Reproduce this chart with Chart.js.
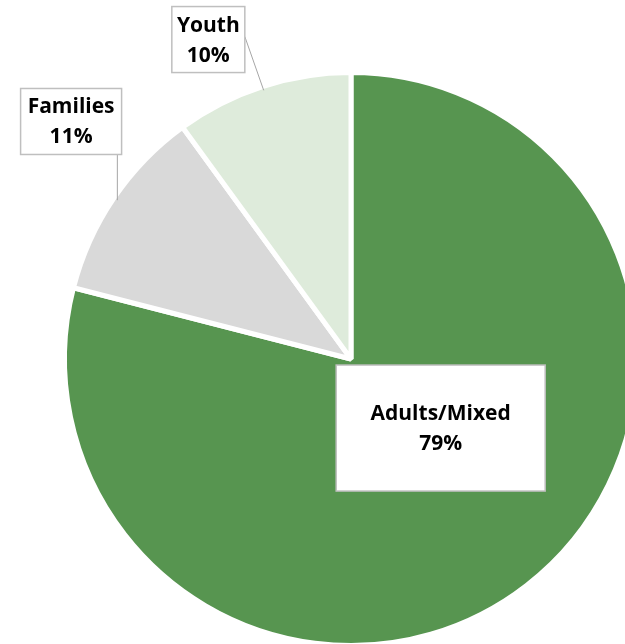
<!DOCTYPE html>
<html>
<head>
<meta charset="utf-8">
<script src="https://cdn.jsdelivr.net/npm/chart.js@4.4.1/dist/chart.umd.min.js"></script>
<style>
    html, body { margin: 0; padding: 0; overflow: hidden; background: #ffffff; }
    #wrap { position: absolute; left: 0; top: 0; width: 700px; height: 720px; }
</style>
</head>
<body>
<div id="wrap"><canvas id="chart"></canvas></div>
<script>
// --- Data ---
const categories = ['Adults/Mixed', 'Families', 'Youth'];
const shares = [79, 11, 10];

// --- Styling ---
const sliceColors = ['#579550', '#d9d9d9', '#deebdb'];
// label box centre, in units of the pie radius, relative to the pie centre
const labelOffsets = [[0.313, 0.241], [-0.977, -0.829], [-0.498, -1.115]];
const labelBoxes = [[209, 126], [101, 66], [73, 66]];
// where the leader line leaves the box (null = label sits inside the slice)
const leaderSide = [null, 'bottom', 'right'];

const labelFont = 'bold 21px "Open Sans", Lato, sans-serif';

// Draws the Excel style callout boxes with leader lines
const calloutPlugin = {
    id: 'callouts',
    afterDatasetsDraw(chart) {
        const ctx = chart.ctx;
        const meta = chart.getDatasetMeta(0);
        const total = shares.reduce((a, b) => a + b, 0);

        meta.data.forEach((arc, i) => {
            const { x, y, startAngle, endAngle, outerRadius } = arc.getProps(['x', 'y', 'startAngle', 'endAngle', 'outerRadius'], true);
            const r = outerRadius;
            const cx = x + labelOffsets[i][0] * r;
            const cy = y + labelOffsets[i][1] * r;
            const [w, h] = labelBoxes[i];
            const left = cx - w / 2, top = cy - h / 2;

            ctx.save();

            // leader line to the slice edge
            if (leaderSide[i]) {
                const mid = (startAngle + endAngle) / 2;
                const ax = x + Math.cos(mid) * (r - 4);
                const ay = y + Math.sin(mid) * (r - 4);
                let sx, sy;
                if (leaderSide[i] === 'bottom') {
                    sx = ax; sy = top + h;
                } else {
                    sx = left + w; sy = cy - 3;
                }
                ctx.strokeStyle = '#a6a6a6';
                ctx.lineWidth = 1;
                ctx.beginPath();
                ctx.moveTo(sx, sy);
                ctx.lineTo(ax, ay);
                ctx.stroke();
            }

            // box
            ctx.fillStyle = '#ffffff';
            ctx.fillRect(left, top, w, h);
            ctx.strokeStyle = '#bfbfbf';
            ctx.lineWidth = 1.5;
            ctx.strokeRect(left, top, w, h);

            // text
            const pct = Math.round(shares[i] / total * 100) + '%';
            ctx.fillStyle = '#000000';
            ctx.font = labelFont;
            ctx.textAlign = 'center';
            ctx.textBaseline = 'middle';
            ctx.fillText(categories[i], cx, cy - 14);
            ctx.fillText(pct, cx, cy + 16);

            ctx.restore();
        });
    }
};

new Chart(document.getElementById('chart'), {
    type: 'pie',
    data: {
        labels: categories,
        datasets: [{
            data: shares,
            backgroundColor: sliceColors,
            borderColor: '#ffffff',
            borderWidth: 5
        }]
    },
    options: {
        responsive: true,
        maintainAspectRatio: false,
        animation: false,
        layout: {
            padding: { left: 62, top: 70, right: 60, bottom: 72 }
        },
        plugins: {
            legend: { display: false },
            tooltip: { enabled: false }
        }
    },
    plugins: [calloutPlugin]
});
</script>
</body>
</html>
